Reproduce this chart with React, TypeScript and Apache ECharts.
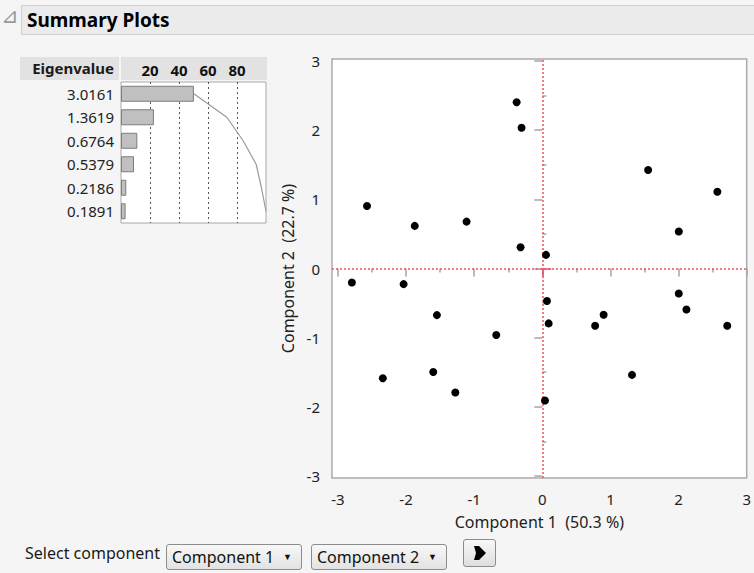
import React, { useEffect, useRef } from "react";
import * as echarts from "echarts";

// ---- Data ----
const eigenLabels = ["3.0161", "1.3619", "0.6764", "0.5379", "0.2186", "0.1891"];
const percentVariance = [50.27, 22.7, 11.27, 8.97, 3.64, 3.15];
const cumulativePercent = [50.27, 72.97, 84.24, 93.2, 96.85, 100];
const percentTickLabels = [20, 40, 60, 80];

const component1 = [
  -0.377, -0.305, 1.553, 2.569, -2.573, -1.872, -1.112, 2.003, -0.319, 0.054,
  -2.795, -2.036, -1.547, -0.676, 0.068, 0.093, 0.775, 0.9, 2.003, 2.115,
  2.714, -2.341, -1.601, -1.277, 1.316, 0.039,
];
const component2 = [
  2.405, 2.035, 1.424, 1.111, 0.905, 0.616, 0.678, 0.534, 0.308, 0.197,
  -0.202, -0.226, -0.674, -0.962, -0.471, -0.794, -0.827, -0.669, -0.361, -0.592,
  -0.827, -1.587, -1.496, -1.794, -1.539, -1.909,
];
const majorTicks = [-3, -2, -1, 0, 1, 2, 3];
const minorTicks = [-2.5, -1.5, -0.5, 0.5, 1.5, 2.5];
const xTitle = "Component 1  (50.3 %)";
const yTitle = "Component 2  (22.7 %)";

const FONT = "'Noto Sans', 'Open Sans', sans-serif";
const TICK_COLOR = "#a6a6a6";
const RED = "#f05060";

export default function App() {
  const ref = useRef<HTMLDivElement>(null);

  useEffect(() => {
    if (!ref.current) return;
    const chart = echarts.init(ref.current, undefined, { renderer: "svg" });
    const scatterData = component1.map((x, i) => [x, component2[i]]);
    const xMin = -3.087;
    const xMax = 3.0;
    const yMin = -3.03;
    const yMax = 3.03;

    chart.setOption({
      animation: false,
      backgroundColor: "transparent",
      textStyle: { fontFamily: FONT },
      grid: [
        {
          left: 332,
          top: 59,
          width: 420,
          height: 419,
          show: true,
          backgroundColor: "#ffffff",
          borderColor: "#ababab",
          borderWidth: 1.5,
        },
        {
          left: 121,
          top: 82,
          width: 145,
          height: 141,
          show: true,
          backgroundColor: "#ffffff",
          borderColor: "#a8a8a8",
          borderWidth: 1,
        },
      ],
      xAxis: [
        {
          type: "value",
          gridIndex: 0,
          min: xMin,
          max: xMax,
          position: "bottom",
          axisLine: { show: false },
          splitLine: { show: false },
          axisTick: {
            show: true,
            customValues: majorTicks,
            length: 8,
            lineStyle: { color: TICK_COLOR, width: 1.5 },
          },
          axisLabel: {
            customValues: majorTicks,
            fontSize: 15,
            color: "#222222",
            margin: 13,
            fontFamily: FONT,
          },
          name: xTitle,
          nameLocation: "middle",
          nameGap: 36,
          nameTextStyle: { fontSize: 16, color: "#222222", fontFamily: FONT },
        },
        {
          type: "value",
          gridIndex: 0,
          min: xMin,
          max: xMax,
          position: "bottom",
          axisLine: { show: false },
          splitLine: { show: false },
          axisTick: {
            show: true,
            customValues: minorTicks,
            length: 4,
            lineStyle: { color: TICK_COLOR, width: 1.5 },
          },
          axisLabel: { show: false },
        },
        {
          type: "value",
          gridIndex: 0,
          min: xMin,
          max: xMax,
          position: "bottom",
          axisLine: { show: false },
          splitLine: { show: false },
          axisTick: {
            show: true,
            customValues: [0],
            length: 8,
            lineStyle: { color: RED, width: 1.5 },
          },
          axisLabel: { show: false },
        },
        {
          type: "value",
          gridIndex: 1,
          min: 0,
          max: 100,
          interval: 20,
          position: "top",
          axisLine: { show: false },
          axisTick: { show: false },
          axisLabel: {
            customValues: percentTickLabels,
            fontSize: 15,
            fontWeight: "bold",
            color: "#111111",
            margin: 5,
            fontFamily: FONT,
          },
          splitLine: {
            show: true,
            showMinLine: false,
            showMaxLine: false,
            lineStyle: { color: "#555555", type: [2, 3], width: 1 },
          },
        },
      ],
      yAxis: [
        {
          type: "value",
          gridIndex: 0,
          min: yMin,
          max: yMax,
          axisLine: { show: false },
          splitLine: { show: false },
          axisTick: {
            show: true,
            customValues: majorTicks,
            length: 8,
            lineStyle: { color: TICK_COLOR, width: 1.5 },
          },
          axisLabel: {
            customValues: majorTicks,
            fontSize: 15,
            color: "#222222",
            margin: 12,
            fontFamily: FONT,
          },
          name: yTitle,
          nameLocation: "middle",
          nameGap: 36,
          nameTextStyle: { fontSize: 16, color: "#222222", fontFamily: FONT },
        },
        {
          type: "value",
          gridIndex: 0,
          min: yMin,
          max: yMax,
          axisLine: { show: false },
          splitLine: { show: false },
          axisTick: {
            show: true,
            customValues: minorTicks,
            length: 4,
            lineStyle: { color: TICK_COLOR, width: 1.5 },
          },
          axisLabel: { show: false },
        },
        {
          type: "value",
          gridIndex: 0,
          min: yMin,
          max: yMax,
          axisLine: { show: false },
          splitLine: { show: false },
          axisTick: {
            show: true,
            customValues: [0],
            length: 9,
            lineStyle: { color: RED, width: 1.5 },
          },
          axisLabel: { show: false },
        },
        {
          type: "category",
          gridIndex: 1,
          data: eigenLabels,
          inverse: true,
          axisLine: { show: false },
          axisTick: { show: false },
          splitLine: { show: false },
          axisLabel: {
            fontSize: 15,
            color: "#222222",
            margin: 7,
            fontFamily: FONT,
          },
        },
      ],
      series: [
        {
          type: "scatter",
          xAxisIndex: 0,
          yAxisIndex: 0,
          data: scatterData,
          symbolSize: 8,
          itemStyle: { color: "#000000", opacity: 1 },
          markLine: {
            silent: true,
            symbol: "none",
            label: { show: false },
            lineStyle: { color: RED, type: [2, 2], width: 1.5 },
            data: [{ xAxis: 0 }, { yAxis: 0 }],
          },
          z: 5,
        },
        {
          type: "bar",
          xAxisIndex: 3,
          yAxisIndex: 3,
          data: percentVariance,
          barWidth: 16,
          itemStyle: { color: "#c0c0c0", borderColor: "#7c7c7c", borderWidth: 1 },
        },
        {
          type: "line",
          xAxisIndex: 3,
          yAxisIndex: 3,
          data: cumulativePercent,
          symbol: "none",
          lineStyle: { color: "#9a9a9a", width: 1.2 },
          z: 4,
        },
      ],
    });
    return () => chart.dispose();
  }, []);

  const selectStyle: React.CSSProperties = {
    position: "absolute",
    top: 544,
    height: 26,
    boxSizing: "border-box",
    border: "1px solid #8c8c8c",
    borderRadius: 3,
    background: "linear-gradient(#f8f8f8, #e2e2e2)",
    fontFamily: FONT,
    fontSize: 16,
    color: "#111",
    lineHeight: "24px",
    paddingLeft: 5,
    whiteSpace: "nowrap",
  };

  return (
    <div
      style={{
        position: "fixed",
        left: 0,
        top: 0,
        width: 754,
        height: 573,
        background: "#f5f5f5",
        overflow: "hidden",
        fontFamily: FONT,
      }}
    >
      {/* Title bar */}
      <div
        style={{
          position: "absolute",
          left: 1,
          top: 6,
          fontSize: 21,
          color: "#9a9a9a",
          lineHeight: "21px",
          fontFamily: "'DejaVu Sans', sans-serif",
        }}
      >
        ⊿
      </div>
      <div
        style={{
          position: "absolute",
          left: 21,
          top: 5,
          width: 740,
          height: 30,
          boxSizing: "border-box",
          border: "1px solid #cfcfcf",
          background: "#ebebeb",
        }}
      >
        <div
          style={{
            position: "absolute",
            left: 5,
            top: 1,
            fontSize: 19,
            fontWeight: "bold",
            color: "#000",
            lineHeight: "26px",
          }}
        >
          Summary Plots
        </div>
      </div>
      {/* Eigenvalue table header */}
      <div
        style={{
          position: "absolute",
          left: 20,
          top: 57,
          width: 99,
          height: 23,
          background: "#e2e2e2",
        }}
      >
        <div
          style={{
            position: "absolute",
            right: 5,
            top: 0,
            fontSize: 15,
            fontWeight: "bold",
            color: "#1a1a1a",
            lineHeight: "23px",
          }}
        >
          Eigenvalue
        </div>
      </div>
      <div
        style={{
          position: "absolute",
          left: 121,
          top: 57,
          width: 146,
          height: 23,
          background: "#e2e2e2",
        }}
      />
      <div ref={ref} style={{ position: "absolute", left: 0, top: 0, width: 754, height: 573 }} />
      {/* Bottom controls */}
      <div
        style={{
          position: "absolute",
          left: 25,
          top: 542,
          fontSize: 16,
          color: "#1a1a1a",
          lineHeight: "22px",
        }}
      >
        Select component
      </div>
      <div style={{ ...selectStyle, left: 166, width: 136 }}>
        Component 1{" "}
        <span style={{ fontSize: 9, position: "absolute", left: 116, top: 0 }}>▼</span>
      </div>
      <div style={{ ...selectStyle, left: 311, width: 136 }}>
        Component 2{" "}
        <span style={{ fontSize: 9, position: "absolute", left: 116, top: 0 }}>▼</span>
      </div>
      <div
        style={{
          position: "absolute",
          left: 463,
          top: 539,
          width: 33,
          height: 28,
          boxSizing: "border-box",
          border: "1px solid #8c8c8c",
          borderRadius: 3,
          background: "linear-gradient(#f8f8f8, #dedede)",
        }}
      >
        <svg width="31" height="26" style={{ position: "absolute", left: 0, top: 0 }}>
          <polygon points="10,6 15,6 22,13 15,20 10,20 12,13" fill="#000" />
        </svg>
      </div>
    </div>
  );
}
